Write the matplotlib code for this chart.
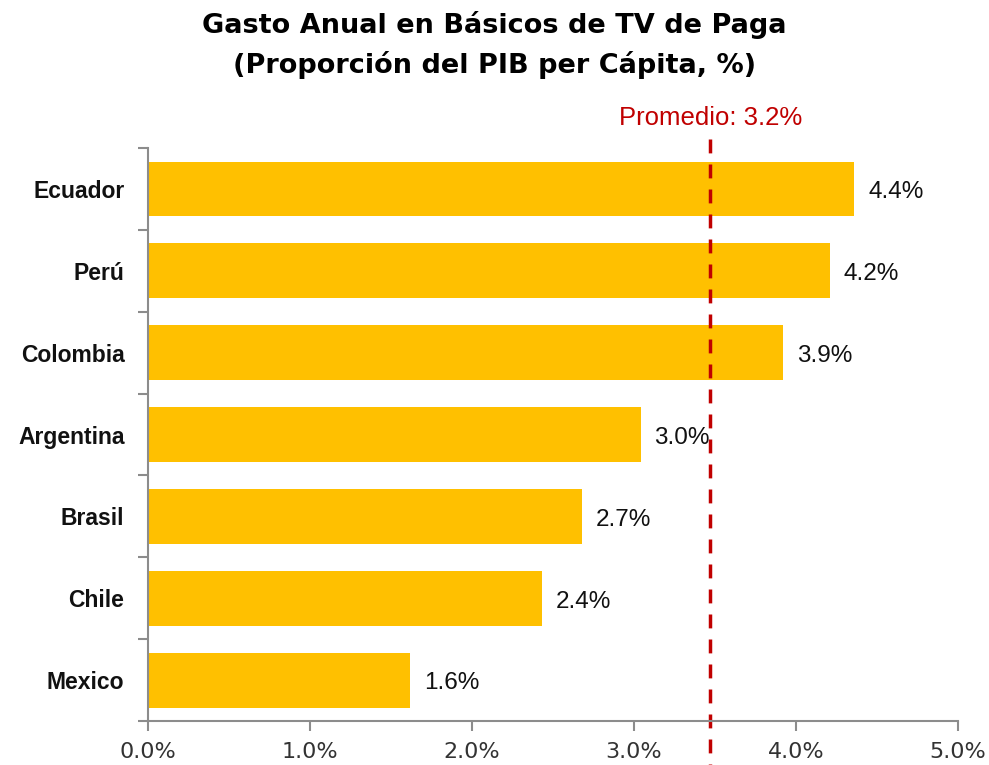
import matplotlib.pyplot as plt
import numpy as np

paises = ['Ecuador', 'Perú', 'Colombia', 'Argentina', 'Brasil', 'Chile', 'Mexico']
valores = [4.36, 4.21, 3.92, 3.04, 2.68, 2.43, 1.62]
etiquetas = ['4.4%', '4.2%', '3.9%', '3.0%', '2.7%', '2.4%', '1.6%']
promedio_pos = 3.47
promedio_txt = 'Promedio: 3.2%'
x_ticks = [0, 1, 2, 3, 4, 5]
x_labels = ['0.0%', '1.0%', '2.0%', '3.0%', '4.0%', '5.0%']

fig = plt.figure(figsize=(9.89, 7.65), dpi=100)
ax = fig.add_axes([0.1497, 0.0575, 0.819, 0.749])

y = np.arange(len(paises))
ax.barh(y, valores, height=0.67, color='#FFC000')
ax.set_ylim(len(paises) - 0.5, -0.5)
ax.set_xlim(0, 5)

for yi, v, lab in zip(y, valores, etiquetas):
    ax.text(v + 0.085, yi + 0.04, lab, va='center', ha='left', fontsize=17.5,
            family='Liberation Sans', color='#111111')

# linea de promedio (dibujada de arriba hacia abajo)
ax.plot([promedio_pos, promedio_pos], [1.016, -0.1], transform=ax.get_xaxis_transform(),
        color='#C00000', lw=2.5, ls=(0, (4, 3.2)), clip_on=False)
ax.text(promedio_pos, 1.052, promedio_txt, transform=ax.get_xaxis_transform(),
        ha='center', va='center', fontsize=18.5, color='#C00000',
        family='Liberation Sans')

# ejes
for s in ['top', 'right']:
    ax.spines[s].set_visible(False)
for s in ['left', 'bottom']:
    ax.spines[s].set_color('#8c8c8c')
    ax.spines[s].set_linewidth(1.5)

ax.set_yticks(np.arange(-0.5, len(paises), 1.0))
ax.set_yticklabels([])
ax.set_yticks(y, minor=True)
ax.set_yticklabels(paises, minor=True, fontsize=16.5, fontweight='bold',
                   family='Liberation Sans', color='#111111')
ax.tick_params(axis='y', which='major', length=7, width=1.5, color='#8c8c8c')
ax.tick_params(axis='y', which='minor', length=0, pad=17)

ax.set_xticks(x_ticks)
ax.set_xticklabels(x_labels, fontsize=16, family='DejaVu Sans')
ax.tick_params(axis='x', length=7, width=1.5, color='#8c8c8c', pad=8, labelcolor='#333333')

fig.text(0.5, 0.967, 'Gasto Anual en Básicos de TV de Paga', ha='center', va='center',
         fontsize=19.5, fontweight='bold', family='DejaVu Sans')
fig.text(0.5, 0.915, '(Proporción del PIB per Cápita, %)', ha='center', va='center',
         fontsize=19.5, fontweight='bold', family='DejaVu Sans')

plt.savefig('out.png', dpi=100)
